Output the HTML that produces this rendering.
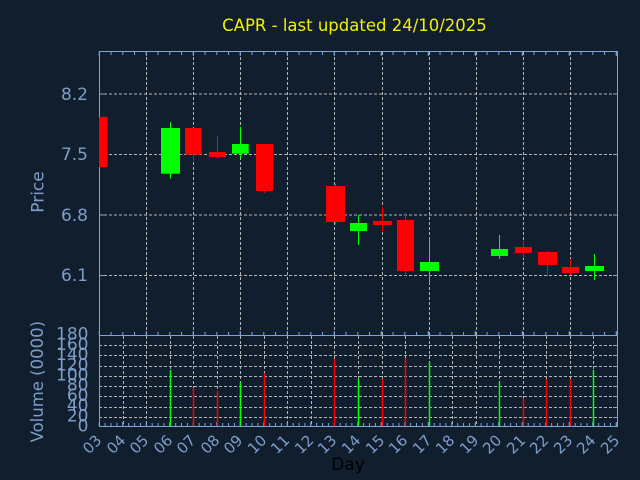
<!DOCTYPE html>
<html><head><meta charset="utf-8"><style>html,body{margin:0;padding:0;background:#111e2e;}svg{display:block;}</style></head>
<body>
<svg width="640" height="480" viewBox="0 0 640 480" xmlns="http://www.w3.org/2000/svg" font-family="'DejaVu Sans','Liberation Sans',sans-serif">
<rect width="640" height="480" fill="#111e2e"/>
<text x="354.5" y="31" font-size="16.5" fill="#f0f000" text-anchor="middle">CAPR - last updated 24/10/2025</text>

<g stroke="#b4b4b4" stroke-width="1" stroke-dasharray="3,2" fill="none">
<path d="M99 94H617M99 154.5H617M99 215H617M99 275.5H617"/>
<path d="M146.5 52V335M193.5 52V335M240.5 52V335M287.5 52V335M334.5 52V335M382.5 52V335M429.5 52V335M476.5 52V335M523.5 52V335M570.5 52V335"/>
<path d="M99 345.5H617M99 355.5H617M99 366.5H617M99 376.5H617M99 386.5H617M99 396.5H617M99 407.5H617M99 417.5H617"/>
<path d="M123.5 336V426M146.5 336V426M170.5 336V426M193.5 336V426M217.5 336V426M240.5 336V426M264.5 336V426M287.5 336V426M311.5 336V426M334.5 336V426M358.5 336V426M382.5 336V426M405.5 336V426M429.5 336V426M452.5 336V426M476.5 336V426M499.5 336V426M523.5 336V426M546.5 336V426M570.5 336V426M593.5 336V426"/>
</g>

<g stroke="#7ea3d4" fill="none">
<rect x="99.5" y="51.5" width="518" height="284" stroke-width="1"/>
<rect x="99.5" y="335.5" width="518" height="91" stroke-width="1"/>
<line x1="98.8" y1="53.5" x2="617" y2="53.5" stroke-width="3" stroke-dasharray="1,10.75"/>
<line x1="98.8" y1="54" x2="617" y2="54" stroke-width="4" stroke-dasharray="1,46"/>
<line x1="98.8" y1="333.5" x2="617" y2="333.5" stroke-width="3" stroke-dasharray="1,10.75"/>
<line x1="98.8" y1="333" x2="617" y2="333" stroke-width="4" stroke-dasharray="1,46"/>
<line x1="98.8" y1="424.5" x2="617" y2="424.5" stroke-width="3" stroke-dasharray="1,4.875"/>
<line x1="98.8" y1="424" x2="617" y2="424" stroke-width="4" stroke-dasharray="1,22.5"/>
<path stroke-width="1" d="M99 94H104M99 154.5H104M99 215H104M99 275.5H104M613 94H617M613 154.5H617M613 215H617M613 275.5H617M613 345.5H617M613 355.5H617M613 366.5H617M613 376.5H617M613 386.5H617M613 396.5H617M613 407.5H617M613 417.5H617"/>
</g>

<!-- candles -->
<g fill="#ff0000" stroke="none">
<rect x="99" y="117" width="8.7" height="50"/>
<rect x="185" y="128" width="16.7" height="26.7"/><rect x="193" y="154" width="1" height="6.7"/>
<rect x="209" y="152" width="16.7" height="5"/><rect x="217" y="136" width="1" height="22.7"/>
<rect x="256" y="144" width="17" height="47"/><rect x="264" y="190" width="1" height="3"/>
<rect x="326" y="186" width="19" height="36"/><rect x="335" y="184" width="1" height="40.3"/>
<rect x="373" y="221" width="19" height="4"/><rect x="382" y="207" width="1" height="24.3"/>
<rect x="397" y="220" width="17" height="51"/><rect x="405" y="213" width="1" height="63"/>
<rect x="515" y="247" width="17" height="6"/><rect x="523" y="241" width="1" height="17"/>
<rect x="538" y="252" width="19" height="13"/><rect x="547" y="251" width="1" height="25"/>
<rect x="562" y="267" width="17" height="6"/><rect x="570" y="259" width="1" height="16"/>
</g>
<g fill="#00ff00" stroke="none">
<rect x="161" y="128" width="19" height="45.7"/><rect x="170" y="122" width="1" height="56.7"/>
<rect x="232" y="144" width="16.7" height="9.7"/><rect x="240" y="126.7" width="1" height="31.6"/>
<rect x="350" y="223" width="17" height="8"/><rect x="358" y="215" width="1" height="30"/>
<rect x="420" y="262" width="19" height="9"/><rect x="429" y="237" width="1" height="47"/>
<rect x="491" y="249" width="17" height="7"/><rect x="499" y="235" width="1" height="24"/>
<rect x="585" y="266" width="19" height="5"/><rect x="594" y="254" width="1" height="26"/>
</g>

<!-- volume bars -->
<g stroke="#ff0000" stroke-width="1.5">
<path d="M193.5 387.7V426M217.5 391V426M264.5 373V426M334.5 359.3V426M382.5 378.7V426M405.5 358.3V426M523.5 398.3V426M546.5 379V426M570.5 379V426"/>
</g>
<g stroke="#00ff00" stroke-width="1.5">
<path d="M170.5 370V426M240.5 382.3V426M358.5 378.7V426M429.5 362V426M499.5 382V426M593.5 370V426"/>
</g>

<!-- y tick labels -->
<g fill="#7d9ec9" font-size="17" text-anchor="end">
<text x="88" y="99.8">8.2</text>
<text x="88" y="160.2">7.5</text>
<text x="88" y="220.8">6.8</text>
<text x="88" y="281.1">6.1</text>
</g>
<g fill="#7d9ec9" font-size="17" text-anchor="end">
<text x="88.5" y="431.5">0</text>
<text x="88.5" y="421.3">20</text>
<text x="88.5" y="411.1">40</text>
<text x="88.5" y="400.9">60</text>
<text x="88.5" y="390.7">80</text>
<text x="88.5" y="380.5">100</text>
<text x="88.5" y="370.3">120</text>
<text x="88.5" y="360.1">140</text>
<text x="88.5" y="349.9">160</text>
<text x="88.5" y="339.7">180</text>
</g>

<!-- x tick labels -->
<g fill="#7d9ec9" font-size="15" text-anchor="end">
<text transform="translate(102.5,441.3) rotate(-45)">03</text>
<text transform="translate(126.5,441.3) rotate(-45)">04</text>
<text transform="translate(149.5,441.3) rotate(-45)">05</text>
<text transform="translate(173.5,441.3) rotate(-45)">06</text>
<text transform="translate(196.5,441.3) rotate(-45)">07</text>
<text transform="translate(220.5,441.3) rotate(-45)">08</text>
<text transform="translate(243.5,441.3) rotate(-45)">09</text>
<text transform="translate(267.5,441.3) rotate(-45)">10</text>
<text transform="translate(290.5,441.3) rotate(-45)">11</text>
<text transform="translate(314.5,441.3) rotate(-45)">12</text>
<text transform="translate(337.5,441.3) rotate(-45)">13</text>
<text transform="translate(361.5,441.3) rotate(-45)">14</text>
<text transform="translate(385.5,441.3) rotate(-45)">15</text>
<text transform="translate(408.5,441.3) rotate(-45)">16</text>
<text transform="translate(432.5,441.3) rotate(-45)">17</text>
<text transform="translate(455.5,441.3) rotate(-45)">18</text>
<text transform="translate(479.5,441.3) rotate(-45)">19</text>
<text transform="translate(502.5,441.3) rotate(-45)">20</text>
<text transform="translate(526.5,441.3) rotate(-45)">21</text>
<text transform="translate(549.5,441.3) rotate(-45)">22</text>
<text transform="translate(573.5,441.3) rotate(-45)">23</text>
<text transform="translate(596.5,441.3) rotate(-45)">24</text>
<text transform="translate(620.5,441.3) rotate(-45)">25</text>
</g>

<!-- axis labels -->
<text transform="translate(43.5,192) rotate(-90)" font-size="17" fill="#7d9ec9" text-anchor="middle">Price</text>
<text transform="translate(43,381.7) rotate(-90)" font-size="16.5" fill="#7d9ec9" text-anchor="middle">Volume (0000)</text>
<text x="348" y="470" font-size="17" fill="#000000" text-anchor="middle">Day</text>
</svg>
</body></html>
